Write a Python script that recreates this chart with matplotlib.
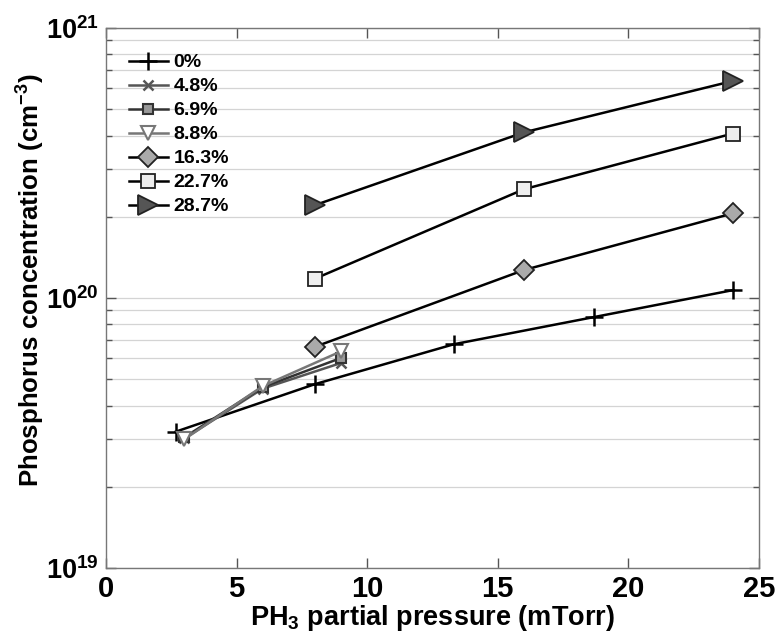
import matplotlib
matplotlib.use('Agg')
import matplotlib.pyplot as plt
from matplotlib.ticker import LogLocator, NullFormatter, FixedLocator, FixedFormatter

plt.rcParams['font.family'] = ['Liberation Sans', 'DejaVu Sans']
plt.rcParams['font.weight'] = 'bold'
plt.rcParams['mathtext.fontset'] = 'custom'
plt.rcParams['mathtext.rm'] = 'Liberation Sans:bold'
plt.rcParams['mathtext.bf'] = 'Liberation Sans:bold'
plt.rcParams['mathtext.it'] = 'Liberation Sans:bold'
plt.rcParams['mathtext.default'] = 'bf'
plt.rcParams['axes.unicode_minus'] = False

# data (x in mTorr, y in cm^-3)
x_0 = [2.67, 8.0, 13.33, 18.67, 24.0]
y_0 = [3.2e19, 4.8e19, 6.75e19, 8.5e19, 1.07e20]

x_low = [3, 6, 9]
y_48 = [3.02e19, 4.62e19, 5.75e19]
y_69 = [3.05e19, 4.68e19, 6.0e19]
y_88 = [3.0e19, 4.72e19, 6.35e19]

x_high = [8, 16, 24]
y_163 = [6.6e19, 1.27e20, 2.06e20]
y_227 = [1.18e20, 2.53e20, 4.07e20]
y_287 = [2.21e20, 4.11e20, 6.37e20]

labels = ['0%', '4.8%', '6.9%', '8.8%', '16.3%', '22.7%', '28.7%']
y_major = [1e19, 1e20, 1e21]
y_major_labels = ['10$^{19}$', '10$^{20}$', '10$^{21}$']

fig = plt.figure(figsize=(7.76, 6.39), dpi=100)
ax = fig.add_axes([0.1366, 0.111, 0.978 - 0.1366, 0.956 - 0.111])

lw = 1.8
ax.plot(x_0, y_0, color='black', lw=lw, marker='+', ms=13, mew=1.8, label=labels[0])
ax.plot(x_low, y_48, color='#555555', lw=lw, marker='x', ms=7, mew=1.8, label=labels[1])
ax.plot(x_low, y_69, color='#333333', lw=lw, marker='s', ms=7, mew=1.5,
        mfc='#999999', mec='#333333', label=labels[2])
ax.plot(x_low, y_88, color='#777777', lw=lw, marker='v', ms=10, mew=1.5,
        mfc='white', mec='#777777', label=labels[3])
ax.plot(x_high, y_163, color='black', lw=lw, marker='D', ms=10, mew=1.3,
        mfc='#aaaaaa', mec='#222222', label=labels[4])
ax.plot(x_high, y_227, color='black', lw=lw, marker='s', ms=10, mew=1.3,
        mfc='#eeeeee', mec='#222222', label=labels[5])
ax.plot(x_high, y_287, color='black', lw=lw, marker='>', ms=14, mew=1.3,
        mfc='#555555', mec='#222222', label=labels[6])

ax.set_yscale('log')
ax.set_xlim(0, 25)
ax.set_ylim(1e19, 1e21)
ax.set_xticks([0, 5, 10, 15, 20, 25])
ax.yaxis.set_major_locator(FixedLocator(y_major))
ax.yaxis.set_major_formatter(FixedFormatter(y_major_labels))
ax.yaxis.set_minor_locator(LogLocator(base=10, subs=range(2, 10)))
ax.yaxis.set_minor_formatter(NullFormatter())

ax.grid(True, axis='y', which='both', color='#d4d4d4', lw=0.9)
ax.set_axisbelow(True)

ax.tick_params(which='both', direction='in', top=True, right=True,
               width=1.0, color='#555555')
ax.tick_params(which='major', length=7)
ax.tick_params(which='minor', length=4)
ax.tick_params(axis='x', pad=5, labelsize=21)
ax.tick_params(axis='y', pad=5, labelsize=19.5)
for lab in ax.get_xticklabels() + ax.get_yticklabels():
    lab.set_fontweight('bold')
for s in ax.spines.values():
    s.set_color('#777777')
    s.set_linewidth(1.0)

ax.set_xlabel('PH$_3$ partial pressure (mTorr)', fontsize=19.5, fontweight='bold', labelpad=0)
ax.set_ylabel('Phosphorus concentration (cm$^{-3}$)', fontsize=18.6, fontweight='bold')
ax.yaxis.set_label_coords(-0.09, 0.533)

leg = ax.legend(loc='upper left', bbox_to_anchor=(0.008, 0.985), frameon=False,
                handlelength=2.0, labelspacing=0.33, handletextpad=0.3,
                prop={'weight': 'bold', 'size': 14})

fig.savefig('out.png', dpi=100)
